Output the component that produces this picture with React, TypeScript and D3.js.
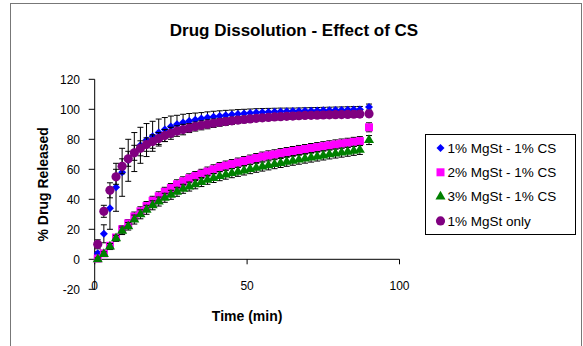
import React from "react";
import * as d3 from "d3";

// sampling times (min)
const times = [1, 3, 5, 7, 9, 11, 13, 15, 17, 19, 21, 23, 25, 27, 29, 31, 33, 35, 37, 39, 41, 43, 45, 47, 49, 51, 53, 55, 57, 59, 61, 63, 65, 67, 69, 71, 73, 75, 77, 79, 81, 83, 85, 87, 90];

// % drug released
const mg1cs1 = [4, 17, 34, 48, 58, 66, 71.5, 76, 79.5, 82, 84.5, 86.5, 88.5, 90, 91.2, 92.2, 93, 93.8, 94.5, 95.1, 95.6, 96.1, 96.5, 96.9, 97.2, 97.5, 97.8, 98, 98.2, 98.4, 98.6, 98.7, 98.8, 98.9, 99, 99.1, 99.2, 99.3, 99.4, 99.5, 99.6, 99.7, 99.8, 99.9, 101.5];
const mg1cs1Sd = [1, 6, 14, 16, 16, 14, 13, 12, 11, 10, 9, 8, 7, 6, 5.5, 5, 4.5, 4, 3.8, 3.6, 3.4, 3.2, 3, 2.9, 2.8, 2.7, 2.6, 2.5, 2.4, 2.3, 2.2, 2.1, 2, 2, 2, 2, 2, 2, 2, 2, 2, 2, 2, 2, 2];

const mg2cs1 = [0.5, 4, 9, 14.5, 20, 24, 28.5, 32, 35.5, 39, 42, 45, 47.5, 50, 52, 54, 55.5, 57, 58.5, 60, 61.5, 62.5, 63.5, 64.5, 65.5, 66.5, 67.5, 68.5, 69.3, 70, 70.8, 71.5, 72.2, 72.9, 73.5, 74.2, 74.8, 75.4, 76, 76.6, 77.2, 77.7, 78.3, 78.8, 88];
const mg2cs1Sd = [1, 1.5, 2, 2, 2.5, 2.5, 3, 3, 3, 3, 3, 3, 3, 3, 3, 3, 3, 3, 3, 3, 3, 3, 3, 3, 3, 3, 3, 3, 3, 3, 3, 3, 3, 3, 3, 3, 3, 3, 3, 3, 3, 3, 3, 3, 3];

const mg3cs1 = [0, 3.5, 8.5, 14, 19, 22, 26.5, 30, 33, 36, 38.5, 41, 43, 45, 47, 48.5, 50, 51.5, 53, 54.2, 55.4, 56.4, 57.4, 58.3, 59.2, 60.1, 61, 61.8, 62.6, 63.4, 64.2, 65, 65.7, 66.4, 67.1, 67.8, 68.5, 69.2, 69.9, 70.5, 71.1, 71.7, 72.3, 72.9, 79.5];
const mg3cs1Sd = [1, 1.5, 2, 2, 2.5, 2.5, 3, 3, 3, 3, 3, 3, 3, 3, 3, 3, 3, 3, 3, 3, 3, 3, 3, 3, 3, 3, 3, 3, 3, 3, 3, 3, 3, 3, 3, 3, 3, 3, 3, 3, 3, 3, 3, 3, 3];

const mg1only = [10, 32, 46, 55, 62, 67, 71, 74, 76.5, 78.5, 80.5, 82.5, 84, 85.5, 86.5, 87.5, 88.5, 89.3, 90, 90.7, 91.3, 91.8, 92.3, 92.8, 93.2, 93.6, 94, 94.3, 94.6, 94.9, 95.1, 95.3, 95.5, 95.7, 95.9, 96, 96.1, 96.2, 96.3, 96.4, 96.5, 96.6, 96.7, 96.8, 97];
const mg1onlySd = [3, 4, 5, 5, 5, 5, 5, 5, 4.5, 4.5, 4, 4, 4, 3.5, 3.5, 3, 3, 3, 3, 2.8, 2.6, 2.5, 2.4, 2.3, 2.2, 2.1, 2, 2, 2, 2, 2, 2, 2, 2, 2, 2, 2, 2, 2, 2, 2, 2, 2, 2, 2];

const seriesNames = ["1% MgSt - 1% CS", "2% MgSt - 1% CS", "3% MgSt - 1% CS", "1% MgSt only"];
const yTicks = [-20, 0, 20, 40, 60, 80, 100, 120];
const xTicks = [0, 50, 100];

const font = "Arial, 'Liberation Sans', sans-serif";

const series = [
  { name: seriesNames[0], vals: mg1cs1, sd: mg1cs1Sd, color: "#0000ff", shape: "diamond" },
  { name: seriesNames[1], vals: mg2cs1, sd: mg2cs1Sd, color: "#ff00ff", shape: "square" },
  { name: seriesNames[2], vals: mg3cs1, sd: mg3cs1Sd, color: "#008000", shape: "triangle" },
  { name: seriesNames[3], vals: mg1only, sd: mg1onlySd, color: "#800080", shape: "circle" },
];

function markerPath(shape: string) {
  if (shape === "diamond") return d3.symbol().type(d3.symbolSquare).size(32)()!;
  if (shape === "square") return d3.symbol().type(d3.symbolSquare).size(64)()!;
  if (shape === "triangle") return d3.symbol().type(d3.symbolTriangle).size(44)()!;
  return d3.symbol().type(d3.symbolCircle).size(66)()!;
}

function Marker({ shape, color, cx, cy }: { shape: string; color: string; cx: number; cy: number }) {
  const rot = shape === "diamond" ? " rotate(45)" : "";
  return <path d={markerPath(shape)} transform={`translate(${cx},${cy})${rot}`} fill={color} />;
}

export default function App() {
  const x = d3.scaleLinear().domain([0, 100]).range([94.7, 399.5]);
  const y = d3.scaleLinear().domain([-20, 120]).range([289.3, 79.3]);
  const cap = 3;

  return (
    <svg width={583} height={346} style={{ position: "absolute", left: 0, top: 0, background: "#fff" }}>
      <rect x={10.5} y={3.5} width={571} height={360} fill="#fff" stroke="#777" />
      <text x={294} y={36} textAnchor="middle" fontFamily={font} fontWeight="bold" fontSize={17}>
        Drug Dissolution - Effect of CS
      </text>

      {/* y axis */}
      <line x1={x(0)} x2={x(0)} y1={y(-20)} y2={y(120)} stroke="#000" />
      {yTicks.map((t) => (
        <g key={t}>
          <line x1={x(0) - 6} x2={x(0)} y1={y(t)} y2={y(t)} stroke="#000" />
          <text x={80} y={y(t)} dy="0.35em" textAnchor="end" fontFamily={font} fontSize={12}>{t}</text>
        </g>
      ))}
      {/* x axis at y = 0 */}
      <line x1={x(0)} x2={x(100)} y1={y(0)} y2={y(0)} stroke="#000" />
      {xTicks.map((t) => (
        <g key={t}>
          <line x1={x(t)} x2={x(t)} y1={y(0)} y2={y(0) + 5} stroke="#000" />
          <text x={x(t)} y={290} textAnchor="middle" fontFamily={font} fontSize={12}>{t}</text>
        </g>
      ))}

      <text x={x(50)} y={321} textAnchor="middle" fontFamily={font} fontWeight="bold" fontSize={14}>Time (min)</text>
      <text transform={`translate(48,${y(50)}) rotate(-90)`} textAnchor="middle" fontFamily={font} fontWeight="bold" fontSize={14}>
        % Drug Released
      </text>

      {series.map((s) => (
        <g key={s.name}>
          {s.vals.map((v, i) => {
            const px = x(times[i]);
            const hi = y(v + s.sd[i]);
            const lo = y(v - s.sd[i]);
            return (
              <g key={i} stroke="#000" strokeWidth={1}>
                <line x1={px} x2={px} y1={hi} y2={lo} />
                <line x1={px - cap} x2={px + cap} y1={hi} y2={hi} />
                <line x1={px - cap} x2={px + cap} y1={lo} y2={lo} />
              </g>
            );
          })}
          {s.vals.map((v, i) => (
            <Marker key={i} shape={s.shape} color={s.color} cx={x(times[i])} cy={y(v)} />
          ))}
        </g>
      ))}

      {/* legend */}
      <rect x={425.5} y={134.5} width={150} height={100} fill="#fff" stroke="#000" />
      {series.map((s, i) => (
        <g key={s.name} transform={`translate(0,${148 + i * 24.3})`}>
          <Marker shape={s.shape} color={s.color} cx={440.5} cy={0} />
          <text x={447.5} y={0} dy="0.35em" fontFamily={font} fontSize={13.5}>{s.name}</text>
        </g>
      ))}
    </svg>
  );
}
